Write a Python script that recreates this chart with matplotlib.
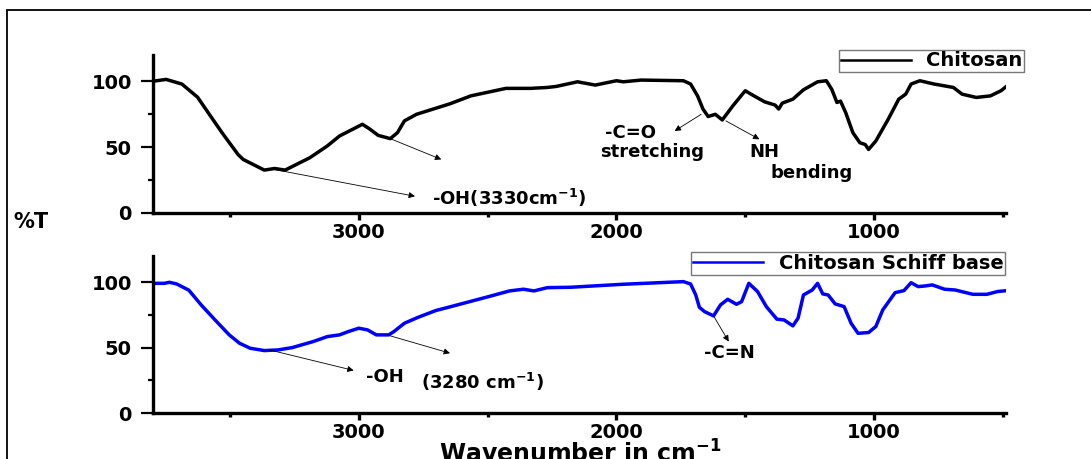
import matplotlib
matplotlib.use('Agg')
from matplotlib import pyplot as plt
from matplotlib.patches import Rectangle
from matplotlib.ticker import FixedLocator

CHITOSAN_WN = [3803, 3748, 3687, 3626, 3585, 3531, 3469, 3449, 3367, 3327,
               3286, 3190, 3122, 3075, 2986, 2959, 2925, 2878, 2850, 2823,
               2776, 2646, 2565, 2429, 2333, 2268, 2233, 2151, 2082, 2000,
               1973, 1904, 1740, 1712, 1685, 1664, 1644, 1616, 1589, 1548,
               1500, 1466, 1425, 1384, 1370, 1356, 1315, 1274, 1219, 1185,
               1164, 1144, 1130, 1110, 1082, 1055, 1034, 1021, 993, 945,
               904, 877, 856, 822, 767, 692, 658, 603, 548, 507, 486]
CHITOSAN_T = [100, 101.5, 98, 88, 76.3, 61, 44.5, 40.7, 32.6, 33.8,
              32.6, 42, 51, 58.5, 67.4, 64, 59, 56.5, 61, 70,
              75, 83, 89, 94.7, 94.7, 95.4, 96.2, 99.7, 97.2, 100.5,
              99.7, 101, 100.5, 98, 89, 79, 73.3, 75, 70.7, 81.4,
              92.9, 89, 84.5, 82, 79, 83.5, 86.5, 93.6, 99.7, 100.5,
              94, 84, 85, 76.3, 61, 53.4, 52, 48.3, 54.7, 71.2,
              86.5, 90.3, 98, 100.5, 98, 95.4, 90.3, 87.8, 89, 92.9, 96.2]

SCHIFF_WN = [3803, 3755, 3735, 3707, 3660, 3612, 3558, 3503, 3463, 3422,
             3367, 3313, 3258, 3177, 3122, 3075, 3041, 3000, 2966, 2932,
             2884, 2864, 2823, 2769, 2701, 2633, 2497, 2415, 2361, 2320,
             2268, 2178, 1973, 1740, 1712, 1692, 1678, 1658, 1623, 1596,
             1568, 1534, 1514, 1486, 1452, 1418, 1377, 1349, 1315, 1295,
             1274, 1240, 1219, 1199, 1178, 1151, 1116, 1089, 1062, 1021,
             993, 966, 918, 884, 856, 829, 801, 774, 726, 685,
             616, 562, 521, 486]
SCHIFF_T = [99.2, 99.2, 100, 98.7, 94, 82.7, 71.2, 59.8, 53.4, 49.6,
            47.8, 48.3, 50.1, 54.7, 58.5, 59.8, 62.3, 64.9, 63.6, 59.8,
            59.8, 62.3, 68.7, 73.3, 78.4, 81.9, 89, 93.4, 94.7, 93.4,
            95.9, 96.2, 98.5, 100.5, 98.7, 90.3, 80.9, 77.6, 74.3, 82.7,
            87, 83.2, 85.2, 99.2, 92.9, 81.4, 71.8, 71.2, 66.7, 72.5,
            90.3, 94.1, 99.2, 91.1, 90.3, 83.5, 81.4, 68.7, 61, 61.6,
            66.2, 78.9, 92.1, 93.6, 99.7, 96.7, 97.2, 98, 94.7, 94.1,
            90.8, 90.8, 92.9, 93.6]

SERIES_LABELS = ['Chitosan', 'Chitosan Schiff base']
X_MAJOR = [3000, 2000, 1000]
X_MINOR = [3500, 2500, 1500, 500]
Y_MAJOR = [0, 50, 100]
Y_MINOR = [25, 75]

plt.rcParams['font.family'] = ['DejaVu Sans']
plt.rcParams['font.weight'] = 'bold'
plt.rcParams['mathtext.default'] = 'bf'


def style_axes(ax):
    ax.set_xlim(3800, 488)
    ax.set_ylim(0, 120)
    for side in ('top', 'right'):
        ax.spines[side].set_visible(False)
    for side in ('left', 'bottom'):
        ax.spines[side].set_linewidth(2.4)
    ax.xaxis.set_major_locator(FixedLocator(X_MAJOR))
    ax.xaxis.set_minor_locator(FixedLocator(X_MINOR))
    ax.yaxis.set_major_locator(FixedLocator(Y_MAJOR))
    ax.yaxis.set_minor_locator(FixedLocator(Y_MINOR))
    ax.tick_params(axis='x', which='major', direction='out', length=5,
                   width=2.4, pad=2, labelsize=14)
    ax.tick_params(axis='x', which='minor', direction='out', length=3,
                   width=2.4)
    ax.tick_params(axis='y', which='major', direction='out', length=9,
                   width=1.6, pad=6, labelsize=14)
    ax.tick_params(axis='y', which='minor', direction='out', length=3.5,
                   width=1.6)
    for lbl in ax.get_xticklabels() + ax.get_yticklabels():
        lbl.set_fontweight('bold')


def arrow(ax, start, tip):
    ax.annotate('', xy=tip, xytext=start,
                arrowprops=dict(arrowstyle='-|>', lw=0.6, color='black',
                                mutation_scale=9, shrinkA=0, shrinkB=0))


def label(ax, x, y, s, ha='center'):
    ax.text(x, y, s, fontsize=13, fontweight='bold', va='center', ha=ha)


def main():

    fig = plt.figure(figsize=(10.91, 4.59), dpi=100)
    fig.patches.append(Rectangle((7 / 1091, -0.1), 1.2, 1.1 - 10 / 459,
                                 transform=fig.transFigure, fill=False,
                                 lw=1.3, edgecolor='black'))

    ax1 = fig.add_axes([0.140, 0.536, 0.782, 0.344])
    ax2 = fig.add_axes([0.140, 0.100, 0.782, 0.342])

    ax1.plot(CHITOSAN_WN, CHITOSAN_T, color='black', lw=2.5,
             label=SERIES_LABELS[0])
    ax2.plot(SCHIFF_WN, SCHIFF_T, color='#0000ff', lw=2.5,
             label=SERIES_LABELS[1])

    for ax in (ax1, ax2):
        style_axes(ax)

    leg_kw = dict(loc='upper left', frameon=True, fancybox=False,
                  edgecolor='#777777', framealpha=1, borderaxespad=0,
                  borderpad=0.1, handlelength=3.6, handletextpad=0.8,
                  prop={'weight': 'bold', 'size': 14})
    leg1 = ax1.legend(bbox_to_anchor=(0.804, 1.035), **leg_kw)
    leg2 = ax2.legend(bbox_to_anchor=(0.631, 1.025), **leg_kw)
    for leg in (leg1, leg2):
        leg.get_frame().set_linewidth(1.0)
        for line in leg.get_lines():
            line.set_linewidth(1.8)

    # top panel annotations
    arrow(ax1, (3327, 33), (2782, 12.7))
    label(ax1, 2714, 11.5, '-OH(3330cm$^{-1}$)', ha='left')
    arrow(ax1, (2878, 56.5), (2680, 40.7))
    arrow(ax1, (1671, 75), (1774, 62.3))
    label(ax1, 1945, 61, '-C=O')
    label(ax1, 1860, 46.5, 'stretching')
    arrow(ax1, (1575, 70), (1445, 56))
    label(ax1, 1425, 46.5, 'NH')
    label(ax1, 1244, 30.5, 'bending')

    # bottom panel annotations
    arrow(ax2, (3347, 48.3), (3020, 32.6))
    label(ax2, 2973, 27.5, '-OH', ha='left')
    label(ax2, 2757, 23.7, '(3280 cm$^{-1}$)', ha='left')
    arrow(ax2, (2891, 59.8), (2646, 45.8))
    arrow(ax2, (1623, 74.3), (1564, 54.7))
    label(ax2, 1562, 45.8, '-C=N')

    fig.text(13 / 1091, 1 - 222 / 459, '%T', fontsize=15, fontweight='bold',
             va='center', ha='left')
    fig.text(580 / 1091, 1 - 440 / 459, 'Wavenumber in cm$^{-1}$',
             fontsize=17, fontweight='bold', va='top', ha='center')

    fig.savefig('out.png', dpi=100)


if __name__ == '__main__':

    main()
